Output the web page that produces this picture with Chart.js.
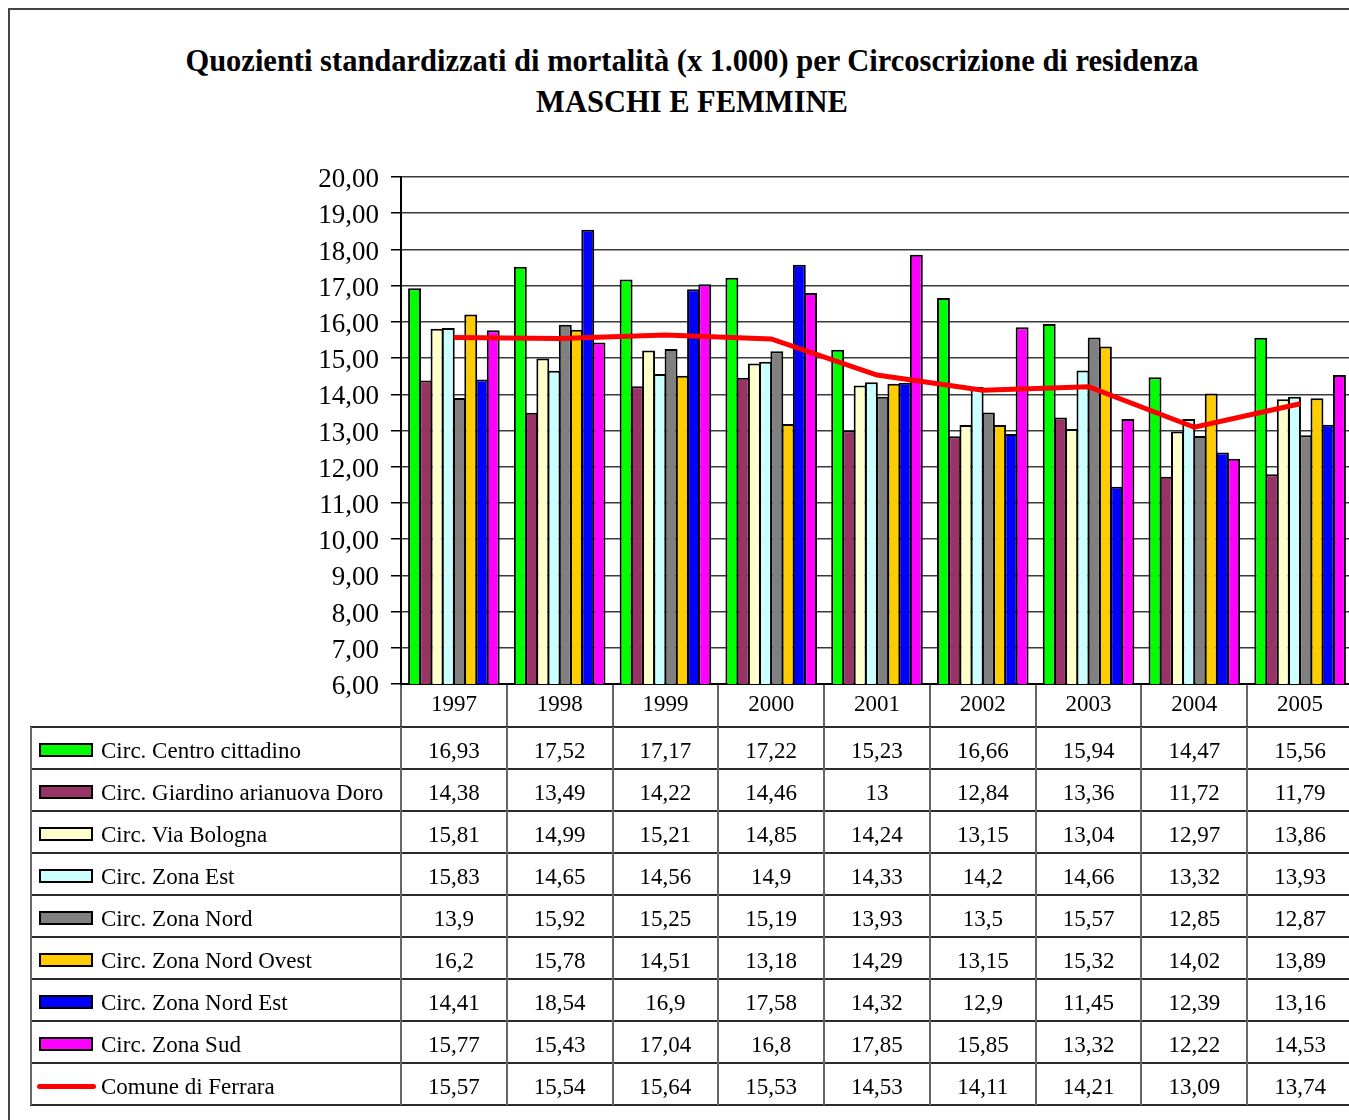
<!DOCTYPE html>
<html>
<head>
<meta charset="utf-8">
<script src="https://cdn.jsdelivr.net/npm/chart.js@4.4.1/dist/chart.umd.min.js"></script>
<style>
    html, body { margin: 0; padding: 0; background: #fff; overflow: hidden; width: 1349px; height: 1120px; }
    #frame { position: absolute; left: 8px; top: 8px; width: 1400px; height: 1200px; border-left: 2px solid #444; border-top: 2px solid #444; }
    #title { position: absolute; left: 0; top: 41px; width: 1384px; text-align: center; font: bold 30.5px "Liberation Serif", serif; line-height: 41px; color: #000; }
    #chart { position: absolute; left: 0; top: 0; }
    .hline, .vline { position: absolute; }
    .hline { background: #2a2a2a; height: 2px; }
    .vline { background: #666; width: 2px; }
    .cell { position: absolute; font: 23px "Liberation Serif", serif; text-align: center; line-height: 48px; height: 42px; color: #000; white-space: nowrap; }
    .label { text-align: left; }
    .key { position: absolute; left: 8px; top: 16px; width: 50px; height: 10px; border: 2px solid #000; }
    .key.line { left: 6px; top: 21px; width: 59px; height: 5px; border: none; border-radius: 3px; }
    .label span { position: absolute; left: 70px; }
</style>
</head>
<body>
<div id="frame"></div>
<div id="title">Quozienti standardizzati di mortalità (x 1.000) per Circoscrizione di residenza<br>MASCHI E FEMMINE</div>
<canvas id="chart" width="1360" height="1120"></canvas>
<div id="table"></div>
<script>
const years = ["1997", "1998", "1999", "2000", "2001", "2002", "2003", "2004", "2005"];

const centro = [16.93, 17.52, 17.17, 17.22, 15.23, 16.66, 15.94, 14.47, 15.56];
const giardino = [14.38, 13.49, 14.22, 14.46, 13, 12.84, 13.36, 11.72, 11.79];
const viaBologna = [15.81, 14.99, 15.21, 14.85, 14.24, 13.15, 13.04, 12.97, 13.86];
const zonaEst = [15.83, 14.65, 14.56, 14.9, 14.33, 14.2, 14.66, 13.32, 13.93];
const zonaNord = [13.9, 15.92, 15.25, 15.19, 13.93, 13.5, 15.57, 12.85, 12.87];
const zonaNordOvest = [16.2, 15.78, 14.51, 13.18, 14.29, 13.15, 15.32, 14.02, 13.89];
const zonaNordEst = [14.41, 18.54, 16.9, 17.58, 14.32, 12.9, 11.45, 12.39, 13.16];
const zonaSud = [15.77, 15.43, 17.04, 16.8, 17.85, 15.85, 13.32, 12.22, 14.53];
const comune = [15.57, 15.54, 15.64, 15.53, 14.53, 14.11, 14.21, 13.09, 13.74];

const barNames = [
    "Circ. Centro cittadino",
    "Circ. Giardino arianuova Doro",
    "Circ. Via Bologna",
    "Circ. Zona Est",
    "Circ. Zona Nord",
    "Circ. Zona Nord Ovest",
    "Circ. Zona Nord Est",
    "Circ. Zona Sud"
];
const barSeries = [centro, giardino, viaBologna, zonaEst, zonaNord, zonaNordOvest, zonaNordEst, zonaSud];
const barColors = ["#00ff00", "#993366", "#ffffcc", "#ccffff", "#808080", "#ffcc00", "#0000ff", "#ff00ff"];
const lineName = "Comune di Ferrara";
const lineColor = "#ff0000";

const yMin = 6;
const yMax = 20;

function formatValue(v) {
    return String(v).replace(".", ",");
}

const datasets = barSeries.map((data, i) => ({
    type: "bar",
    label: barNames[i],
    data: data,
    backgroundColor: barColors[i],
    borderColor: "#000",
    borderWidth: 2,
    borderSkipped: false,
    barPercentage: 1.15,
    categoryPercentage: 0.85,
    order: 1
}));

datasets.push({
    type: "line",
    label: lineName,
    data: comune,
    borderColor: lineColor,
    borderWidth: 5,
    pointRadius: 0,
    fill: false,
    tension: 0,
    order: 0
});

const chart = new Chart(document.getElementById("chart"), {
    type: "bar",
    data: { labels: years, datasets: datasets },
    options: {
        responsive: false,
        animation: false,
        devicePixelRatio: 1,
        layout: { padding: { left: 0, top: 177, right: 7, bottom: 393 } },
        plugins: {
            legend: { display: false },
            tooltip: { enabled: false }
        },
        scales: {
            x: {
                offset: true,
                grid: { offset: true, drawOnChartArea: false, drawTicks: true, tickLength: 43, color: "#666", lineWidth: 2 },
                border: { color: "#000", width: 2 },
                ticks: {
                    font: { family: "Liberation Serif", size: 23 },
                    color: "#000",
                    padding: -36,
                    maxRotation: 0,
                    autoSkip: false
                },
                afterFit: (scale) => { scale.height = 43; }
            },
            y: {
                min: yMin,
                max: yMax,
                ticks: {
                    stepSize: 1,
                    callback: (v) => Number(v).toFixed(2).replace(".", ","),
                    font: { family: "Liberation Serif", size: 27 },
                    color: "#000",
                    padding: 12,
                    labelOffset: 3
                },
                grid: { color: "#3a3a3a", lineWidth: 1.5, tickLength: 10, tickColor: "#000" },
                border: { color: "#000", width: 2 },
                afterFit: (scale) => { scale.width = 401; }
            }
        }
    }
});

// data table under the plot, aligned on the category scale
function buildTable() {
    const table = document.getElementById("table");
    const xs = chart.scales.x;
    const half = (xs.getPixelForValue(1) - xs.getPixelForValue(0)) / 2;
    const left = 31;
    const top = 727;
    const rowH = 42;
    const bounds = [left].concat(years.map((_, i) => xs.getPixelForValue(i) - half));
    bounds.push(xs.getPixelForValue(years.length - 1) + half);

    const rows = barSeries.map((data, i) => ({ name: barNames[i], data: data, color: barColors[i], line: false }));
    rows.push({ name: lineName, data: comune, color: lineColor, line: true });

    let html = "";
    rows.forEach((row, r) => {
        const y = top + r * rowH;
        html += `<div class="cell label" style="left:${bounds[0]}px;top:${y}px;width:${bounds[1] - bounds[0]}px">
            <div class="key${row.line ? " line" : ""}" style="background:${row.color}"></div><span>${row.name}</span></div>`;
        row.data.forEach((v, c) => {
            html += `<div class="cell" style="left:${bounds[c + 1]}px;top:${y}px;width:${bounds[c + 2] - bounds[c + 1]}px">${formatValue(v)}</div>`;
        });
    });
    for (let r = 0; r <= rows.length; r++) {
        html += `<div class="hline" style="left:${left - 1}px;top:${top + r * rowH - 1}px;width:${bounds[bounds.length - 1] - left + 2}px"></div>`;
    }
    bounds.forEach((b) => {
        html += `<div class="vline" style="left:${b - 1}px;top:${top}px;height:${rows.length * rowH}px"></div>`;
    });
    table.innerHTML = html;
}

buildTable();
</script>
</body>
</html>
